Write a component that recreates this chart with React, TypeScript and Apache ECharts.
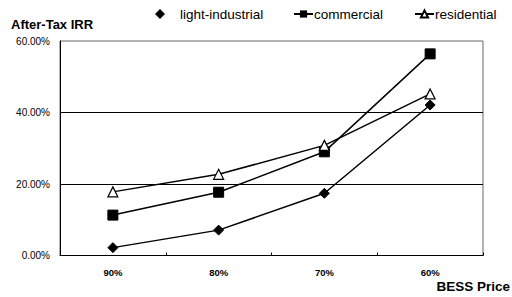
import React, { useEffect, useRef } from "react";
import * as echarts from "echarts";

const categories = ["90%", "80%", "70%", "60%"];
const lightIndustrial = [2.2, 7.1, 17.4, 42.1];
const commercial = [11.3, 17.7, 29.0, 56.4];
const residential = [17.8, 22.7, 30.8, 45.2];
const yTicks = [0, 20, 40, 60];

const FONT = "'Liberation Sans', Arial, sans-serif";

export default function App() {
  const ref = useRef<HTMLDivElement>(null);
  useEffect(() => {
    if (!ref.current) return;
    const chart = echarts.init(ref.current, null, { renderer: "svg" });
    const lineStyle = { color: "#000", width: 1.5 };
    const legendText = { fontFamily: FONT, fontSize: 13.5, color: "#000", padding: [0, 0, 0, -4] };
    chart.setOption({
      animation: false,
      backgroundColor: "#fff",
      textStyle: { fontFamily: FONT },
      title: {
        text: "After-Tax IRR",
        left: 6,
        top: 13,
        textStyle: { fontFamily: FONT, fontSize: 13, fontWeight: "bold", color: "#000" },
      },
      legend: [
        {
          top: 2,
          left: 150,
          itemWidth: 10,
          itemHeight: 10,
          icon: "diamond",
          textStyle: { ...legendText, padding: [0, 0, 0, 10] },
          data: ["light-industrial"],
        },
        {
          top: 2,
          left: 288,
          itemWidth: 19,
          itemHeight: 9,
          textStyle: legendText,
          data: ["commercial"],
        },
        {
          top: 2,
          left: 409,
          itemWidth: 19,
          itemHeight: 9,
          textStyle: legendText,
          data: ["residential"],
        },
      ],
      graphic: [
        {
          type: "text",
          right: 2,
          top: 279,
          style: {
            text: "BESS Price",
            font: "bold 13.5px 'Liberation Sans', Arial, sans-serif",
            fill: "#000",
          },
        },
      ],
      grid: {
        left: 60,
        right: 29,
        top: 41,
        bottom: 41.5,
        show: true,
        borderColor: "#666",
        borderWidth: 1,
      },
      xAxis: {
        type: "category",
        data: categories,
        boundaryGap: true,
        axisLine: { lineStyle: { color: "#000", width: 1 } },
        axisTick: { show: true, inside: true, length: 3, lineStyle: { color: "#000" } },
        axisLabel: { fontFamily: FONT, fontSize: 9.5, fontWeight: "bold", color: "#000", margin: 12 },
        splitLine: { show: false },
      },
      yAxis: {
        type: "value",
        min: yTicks[0],
        max: yTicks[yTicks.length - 1],
        interval: 20,
        axisLine: { show: true, lineStyle: { color: "#000", width: 1 } },
        axisTick: { show: false },
        axisLabel: {
          fontFamily: FONT,
          fontSize: 10,
          color: "#000",
          margin: 10,
          formatter: (v: number) => v.toFixed(2) + "%",
        },
        splitLine: {
          show: true,
          lineStyle: { color: "#000", width: 1 },
          showMinLine: false,
          showMaxLine: false,
        },
      },
      series: [
        {
          name: "light-industrial",
          type: "line",
          data: lightIndustrial,
          symbol: "diamond",
          symbolSize: 10,
          lineStyle,
          itemStyle: { color: "#000", borderColor: "#000" },
        },
        {
          name: "commercial",
          type: "line",
          data: commercial,
          symbol: "rect",
          symbolSize: 10,
          lineStyle,
          itemStyle: { color: "#000", borderColor: "#000" },
        },
        {
          name: "residential",
          type: "line",
          data: residential,
          symbol: "triangle",
          symbolSize: 10,
          lineStyle,
          itemStyle: { color: "#fff", borderColor: "#000", borderWidth: 1.2 },
        },
      ],
    });
    return () => chart.dispose();
  }, []);
  return <div ref={ref} style={{ width: 512, height: 297, position: "absolute", left: 0, top: 0 }} />;
}
